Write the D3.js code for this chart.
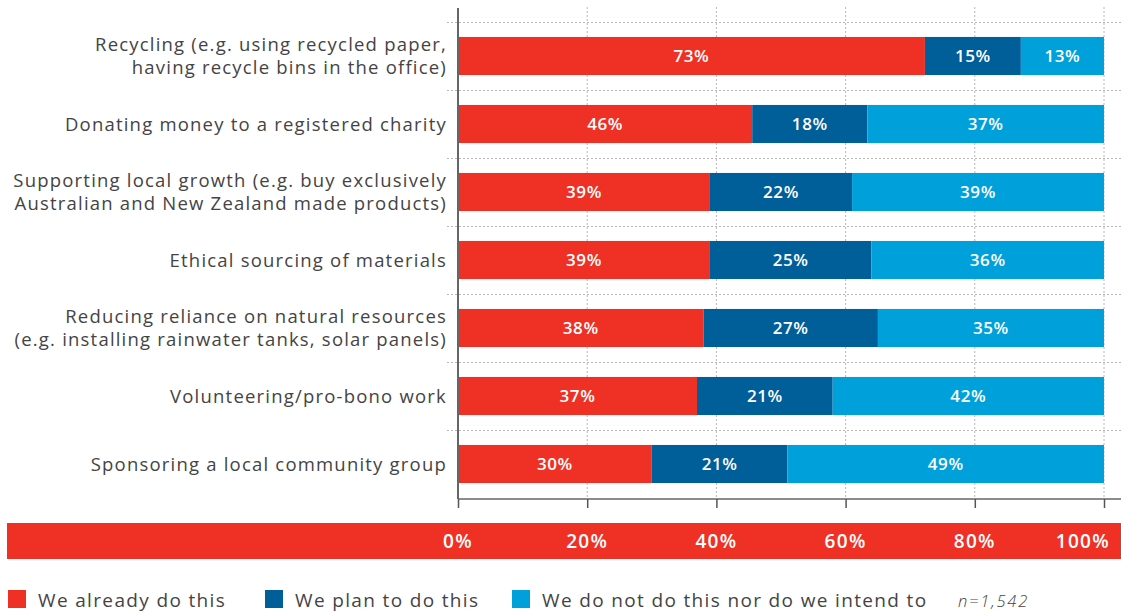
<!DOCTYPE html>
<html>
<head>
<meta charset="utf-8">
<script src="https://cdn.jsdelivr.net/npm/d3@7"></script>
<style>
  html, body { margin: 0; padding: 0; background: #fff; }
  svg { display: block; }
  text { font-family: "Open Sans", "Lato", sans-serif; }
</style>
</head>
<body>
<svg id="chart" width="1121" height="614"></svg>
<script>
// Activities (each label may span two lines)
const categories = [
  ["Recycling (e.g. using recycled paper,", "having recycle bins in the office)"],
  ["Donating money to a registered charity"],
  ["Supporting local growth (e.g. buy exclusively", "Australian and New Zealand made products)"],
  ["Ethical sourcing of materials"],
  ["Reducing reliance on natural resources", "(e.g. installing rainwater tanks, solar panels)"],
  ["Volunteering/pro-bono work"],
  ["Sponsoring a local community group"]
];

// Share of respondents (%) per activity
const alreadyDo = [73, 46, 39, 39, 38, 37, 30];
const planToDo  = [15, 18, 22, 25, 27, 21, 21];
const notDo     = [13, 37, 39, 36, 35, 42, 49];

const seriesNames = ["We already do this", "We plan to do this", "We do not do this nor do we intend to"];
const seriesColors = ["#ee3124", "#005e99", "#00a1da"];
const tickValues = [0, 0.2, 0.4, 0.6, 0.8, 1.0];
const tickLabels = ["0%", "20%", "40%", "60%", "80%", "100%"];
const sampleNote = "n=1,542";

const keys = ["a", "p", "n"];
const rows = categories.map((c, i) => ({ idx: i, a: alreadyDo[i], p: planToDo[i], n: notDo[i] }));

const svg = d3.select("#chart");

const x = d3.scaleLinear().domain([0, 1]).range([458, 1104]);
const y = d3.scaleBand().domain(rows.map(d => d.idx)).range([22, 498]).paddingInner(0.44).paddingOuter(0.22);

// stacked, normalised to 100% per row
const stack = d3.stack().keys(keys).offset(d3.stackOffsetExpand);
const layers = stack(rows);

// vertical gridlines
svg.append("g").selectAll("line").data(tickValues.slice(1)).join("line")
  .attr("x1", d => x(d)).attr("x2", d => x(d))
  .attr("y1", 7).attr("y2", 498)
  .attr("stroke", "#b8b8b8").attr("stroke-width", 1)
  .attr("stroke-dasharray", "2,2");

// horizontal separators between rows
const seps = d3.range(rows.length).map(i => y(i) - y.step() * y.paddingInner() / 2);
svg.append("g").selectAll("line").data(seps).join("line")
  .attr("x1", 447).attr("x2", 1121)
  .attr("y1", d => Math.round(d) + 0.5).attr("y2", d => Math.round(d) + 0.5)
  .attr("stroke", "#b8b8b8").attr("stroke-width", 1)
  .attr("stroke-dasharray", "2,2");

// bars
const gLayers = svg.append("g").selectAll("g").data(layers).join("g")
  .attr("fill", (d, i) => seriesColors[i]);
gLayers.selectAll("rect").data(d => d).join("rect")
  .attr("x", d => x(d[0]))
  .attr("width", d => x(d[1]) - x(d[0]))
  .attr("y", d => y(d.data.idx))
  .attr("height", y.bandwidth());

// value labels
layers.forEach(layer => {
  svg.append("g").selectAll("text").data(layer).join("text")
    .attr("x", d => (x(d[0]) + x(d[1])) / 2)
    .attr("y", d => y(d.data.idx) + y.bandwidth() / 2)
    .attr("dy", "0.36em")
    .attr("text-anchor", "middle")
    .attr("fill", "#fff")
    .attr("font-size", 17)
    .attr("font-weight", 600)
    .attr("letter-spacing", 0.6)
    .text(d => d.data[layer.key] + "%");
});

// category labels
const catG = svg.append("g").selectAll("text").data(rows).join("text")
  .attr("text-anchor", "end")
  .attr("fill", "#444")
  .attr("font-size", 18.5)
  .attr("font-weight", 400)
  .attr("letter-spacing", 1.2)
  .attr("transform", d => `translate(447,${y(d.idx) + y.bandwidth() / 2})`);
catG.each(function(d) {
  const lines = categories[d.idx];
  const lh = 23;
  const t = d3.select(this);
  lines.forEach((ln, j) => {
    t.append("tspan").attr("x", 0)
      .attr("y", (j - (lines.length - 1) / 2) * lh)
      .attr("dy", "0.36em")
      .text(ln);
  });
});

// left axis line
svg.append("line").attr("x1", 458).attr("x2", 458).attr("y1", 8).attr("y2", 499)
  .attr("stroke", "#666").attr("stroke-width", 2);

// bottom axis with ticks
const xAxis = d3.axisBottom(x).tickValues(tickValues).tickSize(9).tickFormat("");
const axG = svg.append("g").attr("transform", "translate(0,499)").call(xAxis);
axG.select(".domain").attr("d", "M458,0H1121").attr("stroke", "#666").attr("stroke-width", 1.5);
axG.selectAll(".tick line").attr("stroke", "#555").attr("stroke-width", 1.5);

// tick label band
svg.append("rect").attr("x", 7).attr("y", 523).attr("width", 1114).attr("height", 36).attr("fill", "#ee3124");
svg.append("g").selectAll("text").data(tickValues).join("text")
  .attr("x", (d, i) => i === tickValues.length - 1 ? 1110 : x(d))
  .attr("y", 541)
  .attr("dy", "0.36em")
  .attr("text-anchor", (d, i) => i === tickValues.length - 1 ? "end" : "middle")
  .attr("fill", "#fff")
  .attr("font-size", 19)
  .attr("font-weight", 600)
  .attr("letter-spacing", 1.3)
  .text((d, i) => tickLabels[i]);

// legend
const legendX = [8, 265, 512];
const lg = svg.append("g").selectAll("g").data(seriesNames).join("g")
  .attr("transform", (d, i) => `translate(${legendX[i]},590)`);
lg.append("rect").attr("width", 18).attr("height", 18).attr("fill", (d, i) => seriesColors[i]);
lg.append("text").attr("x", 30).attr("y", 10).attr("dy", "0.38em")
  .attr("fill", "#444").attr("font-size", 19).attr("font-weight", 400)
  .attr("letter-spacing", 1.35).text(d => d);

svg.append("text").attr("x", 958).attr("y", 601).attr("dy", "0.38em")
  .attr("fill", "#444").attr("font-size", 16.5).attr("font-style", "italic").attr("font-weight", 300)
  .attr("letter-spacing", 1.8).text(sampleNote);
</script>
</body>
</html>
